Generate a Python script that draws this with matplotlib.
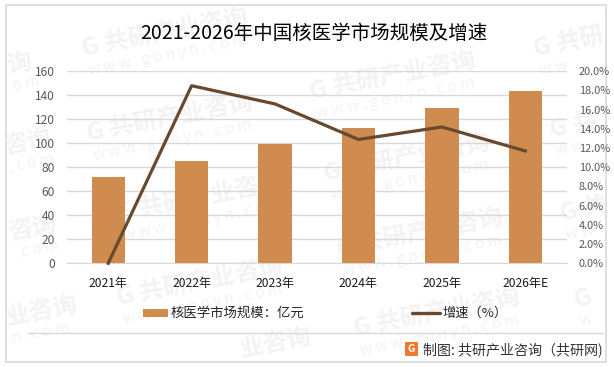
import matplotlib
matplotlib.use("Agg")
import matplotlib.pyplot as plt
from matplotlib.patches import Rectangle, FancyBboxPatch
import numpy as np

plt.rcParams['font.family'] = ['Noto Sans CJK SC', 'DejaVu Sans']

years = ['2021年', '2022年', '2023年', '2024年', '2025年', '2026年E']
market_size = [72, 85, 99.5, 113, 129.5, 144]
growth = [0.0, 18.5, 16.6, 12.9, 14.2, 11.7]
left_ticks = [0, 20, 40, 60, 80, 100, 120, 140, 160]
right_ticks = [0, 2, 4, 6, 8, 10, 12, 14, 16, 18, 20]

W, H = 614, 367
BAR = '#D08B4E'
LINE = '#66492F'
WM = '#F3F3F3'

fig = plt.figure(figsize=(W / 100, H / 100), dpi=100, facecolor='white')

# fondo en pixeles: marco, marcas de agua, logo
bg = fig.add_axes([0, 0, 1, 1], zorder=0)
bg.set_xlim(0, W)
bg.set_ylim(H, 0)
bg.axis('off')

# marcas de agua: x, y, texto grande, texto web
full = 'G 共研产业咨询'
web = 'w w w . g o n y n . c o m'
marks = [(7, 66, '询', 'o m'),
         (3, 147, '咨询', '. c o m'),
         (8, 233, '咨询', '. c o m'),
         (6, 318, '业咨询', 'n . c o m'),
         (82, 50, full, web),
         (87, 135, full, web),
         (117, 215, full, web),
         (117, 299, full, web),
         (240, 350, '业咨询', ''),
         (330, 18, '', 'n . c o m'),
         (310, 93, full, web),
         (324, 175, full, web),
         (337, 250, full, web),
         (354, 330, full, web),
         (534, 50, 'G 共研', 'w w'),
         (550, 130, 'G 共', 'w w'),
         (560, 214, 'G 共', 'w w'),
         (574, 300, 'G', 'w')]
for x, y, big, small in marks:
    bg.text(x, y, big, fontsize=17.5, fontweight='bold', color=WM, zorder=1,
            rotation=11, rotation_mode='anchor', ha='left', va='center')
    bg.text(x + 6, y + 21, small, fontsize=11, color=WM, zorder=1,
            rotation=11, rotation_mode='anchor', ha='left', va='center')

bg.add_patch(Rectangle((5.5, 4.5), 600, 357.5, fill=False, ec='#D9D9D9', lw=1.2, zorder=2))
bg.plot([28, 603], [333, 333], color='#D9D9D9', lw=1, zorder=2)

bg.text(314, 33.5, '2021-2026年中国核医学市场规模及增速', fontsize=14, color='black',
        ha='center', va='center', zorder=5)

# leyenda
bg.add_patch(Rectangle((143, 309), 25, 8, fc=BAR, ec='none', zorder=5))
bg.text(171, 313, '核医学市场规模：亿元', fontsize=9.6, color='#262626', ha='left', va='center', zorder=5)
bg.plot([412, 440], [312.5, 312.5], color=LINE, lw=2.4, solid_capstyle='round', zorder=5)
bg.text(442, 313, '增速（%）', fontsize=9.5, color='#262626', ha='left', va='center', zorder=5)

# fuente y logo
bg.add_patch(FancyBboxPatch((406, 343), 11, 12, boxstyle='round,pad=1', fc='#F07A2A', ec='none', zorder=5))
bg.text(411.5, 349, 'G', fontsize=7.5, fontweight='bold', color='white', ha='center', va='center', zorder=6)
bg.text(423, 350, '制图: 共研产业咨询（共研网)', fontsize=10.1, color='#333333', ha='left', va='center', zorder=5)

# grafico principal
ax = fig.add_axes([66.5 / W, 1 - 263.3 / H, 500.5 / W, 192 / H], zorder=2)
ax.patch.set_alpha(0)
x = np.arange(len(years))
ax.bar(x, market_size, width=0.4, color=BAR, zorder=2)
ax.set_xlim(-0.5, 5.5)
ax.set_ylim(0, 160)
ax.set_yticks(left_ticks)
ax.set_xticks(x)
ax.set_xticklabels(years, fontsize=8.7, color='#1A1A1A')
ax.tick_params(axis='both', length=0)
ax.tick_params(axis='x', pad=10)
ax.tick_params(axis='y', labelsize=8.6, labelcolor='#595959', pad=8.3)
ax.grid(axis='y', color='#D9D9D9', lw=1, zorder=0)
ax.set_axisbelow(True)
for s in ['top', 'left', 'right']:
    ax.spines[s].set_visible(False)
ax.spines['bottom'].set_color('#D9D9D9')

ax2 = ax.twinx()
ax2.plot(x, growth, color=LINE, lw=2.3, solid_joinstyle='round', clip_on=False, zorder=3)
ax2.set_ylim(0, 20)
ax2.set_yticks(right_ticks)
ax2.set_yticklabels(['%.1f%%' % v for v in right_ticks])
ax2.tick_params(axis='y', length=0, labelsize=7.9, labelcolor='#595959', pad=8.5)
for s in ax2.spines.values():
    s.set_visible(False)

fig.savefig('out.png', dpi=100)
